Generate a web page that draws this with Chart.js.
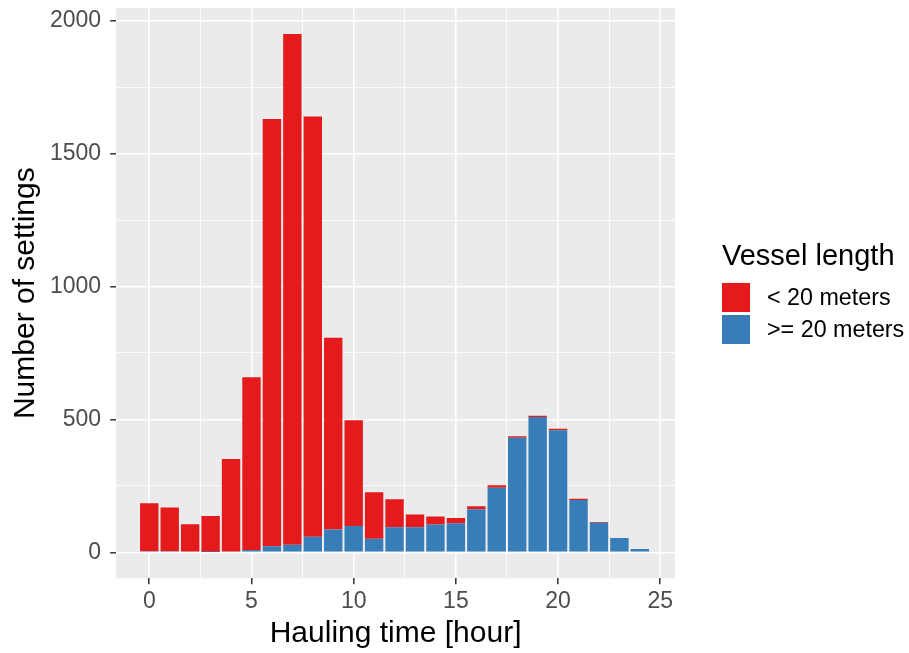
<!DOCTYPE html>
<html>
<head>
<meta charset="utf-8">
<script src="https://cdn.jsdelivr.net/npm/chart.js@4.4.1/dist/chart.umd.min.js"></script>
<style>
  html, body { margin: 0; padding: 0; background: #fff; }
  #wrap { position: relative; width: 909px; height: 653px; }
  #legend { position: absolute; left: 722px; top: 238px; font-family: 'Liberation Sans', Arial, sans-serif; color: #000; }
  #legend .ttl { font-size: 29px; line-height: 34px; margin-bottom: 11px; }
  #legend .item { display: flex; align-items: center; height: 29px; margin-bottom: 3px; font-size: 23.3px; }
  #legend .sw { width: 28px; height: 29px; margin-right: 17px; }
</style>
</head>
<body>
<div id="wrap">
  <canvas id="haulChart"></canvas>
  <div id="legend"><div class="ttl">Vessel length</div></div>
</div>
<script>
// hourly counts of settings, split by vessel length
var hours = [0, 1, 2, 3, 4, 5, 6, 7, 8, 9, 10, 11, 12, 13, 14, 15, 16, 17, 18, 19, 20, 21, 22, 23, 24];
var under20 = [181, 165, 103, 135, 348, 650, 1607, 1921, 1580, 721, 398, 175, 105, 48, 30, 19, 12, 10, 6, 5, 6, 5, 2, 0, 0];
var over20 = [4, 4, 3, 2, 3, 9, 23, 29, 59, 86, 99, 51, 95, 95, 105, 110, 162, 243, 431, 509, 459, 197, 112, 54, 13];
var xTicks = [0, 2.5, 5, 7.5, 10, 12.5, 15, 17.5, 20, 22.5, 25];
var yTicks = [0, 250, 500, 750, 1000, 1250, 1500, 1750, 2000];

var FONT = "'Liberation Sans', Arial, sans-serif";

function points(vals) {
  return hours.map(function (h, i) { return { x: h, y: vals[i] }; });
}

// grey panel behind the grid
var panelBg = {
  id: 'panelBg',
  beforeDraw: function (chart) {
    var a = chart.chartArea, c = chart.ctx;
    c.save();
    c.fillStyle = '#EBEBEB';
    c.fillRect(a.left, a.top, a.right - a.left, a.bottom - a.top);
    c.restore();
  }
};

// white grid: thick on major ticks, thin on minor ones; tick marks only on majors
function gridOpts(major) {
  return {
    offset: false,
    color: '#FFFFFF',
    lineWidth: function (ctx) { return ctx.tick && ctx.tick.value % major === 0 ? 1.6 : 0.8; },
    drawTicks: true,
    tickLength: 6,
    tickWidth: 1.5,
    tickColor: function (ctx) { return ctx.tick && ctx.tick.value % major === 0 ? '#333333' : 'rgba(0,0,0,0)'; }
  };
}

// labels sit well inside the panel, so no edge padding is needed
function noEdgePadding(s) {
  s.paddingTop = 0;
  s.paddingBottom = 0;
  s.paddingLeft = 0;
  s.paddingRight = 0;
}

var chart = new Chart(document.getElementById('haulChart'), {
  type: 'bar',
  data: {
    datasets: [{
      label: '>= 20 meters',
      data: points(over20),
      backgroundColor: '#377EB8'
    }, {
      label: '< 20 meters',
      data: points(under20),
      backgroundColor: '#E41A1C'
    }]
  },
  options: {
    responsive: true,
    maintainAspectRatio: false,
    animation: false,
    barPercentage: 0.9,
    categoryPercentage: 1.0,
    layout: { padding: { left: 11, top: 8, right: 234, bottom: 5 } },
    plugins: {
      tooltip: { enabled: false },
      legend: { display: false }
    },
    scales: {
      x: {
        type: 'linear',
        stacked: true,
        min: -1.62,
        max: 25.72,
        offset: false,
        afterBuildTicks: function (s) { s.ticks = xTicks.map(function (v) { return { value: v }; }); },
        afterFit: noEdgePadding,
        grid: gridOpts(5),
        border: { display: false },
        ticks: {
          autoSkip: false,
          maxRotation: 0,
          padding: 7,
          color: '#4D4D4D',
          font: { family: FONT, size: 23, lineHeight: 0.92 },
          callback: function (v) { return v % 5 === 0 ? v : ''; }
        },
        title: {
          display: true,
          text: 'Hauling time [hour]',
          color: '#000',
          font: { family: FONT, size: 30, lineHeight: 0.95 },
          padding: { top: 0, bottom: 0 }
        }
      },
      y: {
        stacked: true,
        min: -97.5,
        max: 2047.5,
        afterBuildTicks: function (s) { s.ticks = yTicks.map(function (v) { return { value: v }; }); },
        afterFit: noEdgePadding,
        grid: gridOpts(500),
        border: { display: false },
        ticks: {
          autoSkip: false,
          padding: 9,
          color: '#4D4D4D',
          font: { family: FONT, size: 23 },
          callback: function (v) { return v % 500 === 0 ? v : ''; }
        },
        title: {
          display: true,
          text: 'Number of settings',
          color: '#000',
          font: { family: FONT, size: 30, lineHeight: 1 },
          padding: { top: 0, bottom: 0 }
        }
      }
    }
  },
  plugins: [panelBg]
});

// legend keys built from the datasets, top series first
var legendEl = document.getElementById('legend');
chart.data.datasets.slice().reverse().forEach(function (ds) {
  var item = document.createElement('div');
  item.className = 'item';
  var sw = document.createElement('span');
  sw.className = 'sw';
  sw.style.background = ds.backgroundColor;
  item.appendChild(sw);
  item.appendChild(document.createTextNode(ds.label));
  legendEl.appendChild(item);
});
</script>
</body>
</html>
